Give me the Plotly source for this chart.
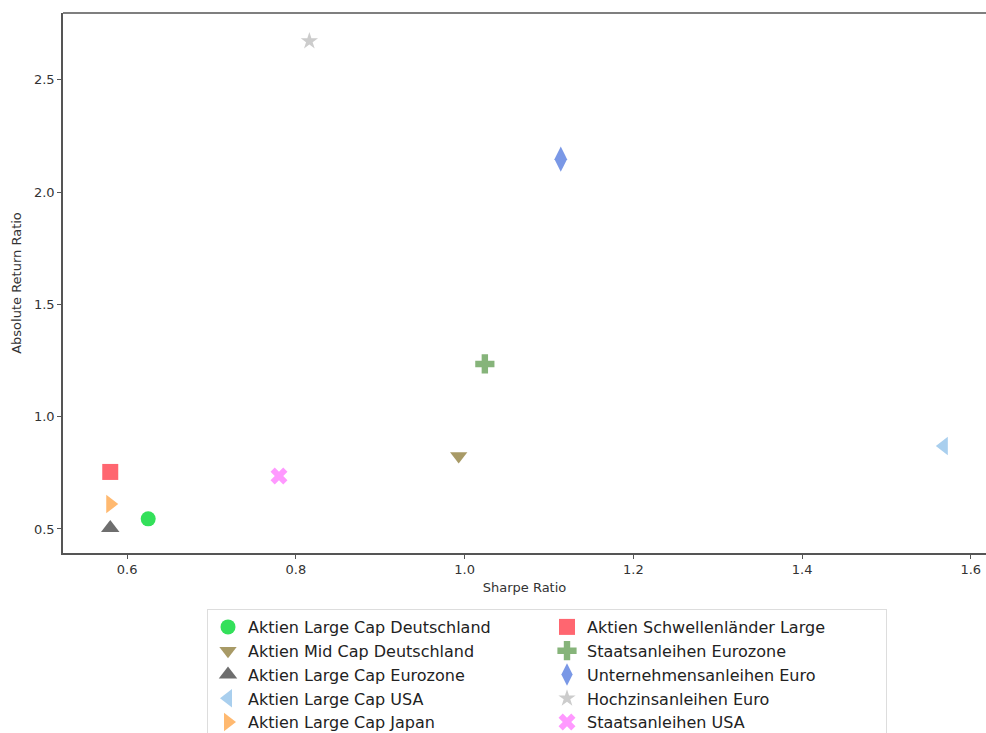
import plotly.graph_objects as go

names = [
    "Aktien Large Cap Deutschland",
    "Aktien Mid Cap Deutschland",
    "Aktien Large Cap Eurozone",
    "Aktien Large Cap USA",
    "Aktien Large Cap Japan",
    "Aktien Schwellenländer Large",
    "Staatsanleihen Eurozone",
    "Unternehmensanleihen Euro",
    "Hochzinsanleihen Euro",
    "Staatsanleihen USA",
]
sharpe = [0.625, 0.993, 0.580, 1.568, 0.580, 0.580, 1.024, 1.114, 0.816, 0.780]
abs_return = [0.545, 0.825, 0.504, 0.870, 0.611, 0.754, 1.235, 2.147, 2.673, 0.736]

symbols = ["circle", "triangle-down", "triangle-up", "triangle-left", "triangle-right",
           "square", "cross", "diamond-tall", "star", "x"]
colors = ["#33e05a", "#a89a66", "#6e6e6e", "#a9cfee", "#ffb970",
          "#ff6670", "#86b47a", "#7a98e6", "#cccccc", "#ff99ff"]
sizes = [15, 15, 16, 16, 16, 16, 16, 18, 13, 15]

W, H = 986, 733

fig = go.Figure()
# interleave so that a 2-column row-major legend reads column-major
order = []
for i in range(5):
    order += [i, i + 5]
for i in order:
    fig.add_trace(go.Scatter(
        x=[sharpe[i]], y=[abs_return[i]], mode="markers", name=names[i],
        marker=dict(symbol=symbols[i], color=colors[i], size=sizes[i], line=dict(width=0)),
    ))

axis_common = dict(showgrid=False, zeroline=False, showline=True, linecolor="#555555",
                   linewidth=1.5, ticks="outside", ticklen=4, tickcolor="#555555",
                   automargin=False, ticklabeloverflow="allow",
                   tickfont=dict(family="DejaVu Sans", size=13, color="#333333"))
fig.update_xaxes(range=[0.524, 1.618], tickvals=[0.6, 0.8, 1.0, 1.2, 1.4, 1.6],
                 ticktext=["0.6", "0.8", "1.0", "1.2", "1.4", "1.6"],
                 title=dict(text="Sharpe Ratio", font=dict(family="DejaVu Sans", size=13, color="#333333"),
                            standoff=7), **axis_common)
fig.update_yaxes(range=[0.393, 2.798], tickvals=[0.5, 1.0, 1.5, 2.0, 2.5],
                 ticktext=["0.5", "1.0", "1.5", "2.0", "2.5"],
                 title=dict(text="Absolute Return Ratio", font=dict(family="DejaVu Sans", size=13, color="#333333"),
                            standoff=9), **axis_common)

fig.add_shape(type="line", xref="paper", yref="paper", x0=0, x1=1, y0=1, y1=1,
              line=dict(color="#555555", width=1.5))

fig.update_layout(
    width=W, height=H,
    margin=dict(l=63, r=0, t=13, b=H - 553, autoexpand=False),
    plot_bgcolor="white", paper_bgcolor="white",
    showlegend=True,
    legend=dict(orientation="h", xref="container", yref="container",
                x=207 / W, y=1 - 609 / H, xanchor="left", yanchor="top",
                entrywidth=294, entrywidthmode="pixels",
                font=dict(family="DejaVu Sans", size=16, color="#222222"),
                bordercolor="#dddddd", borderwidth=1, bgcolor="white",
                tracegroupgap=0),
)

fig.write_html(
    "out.html",
    config={"displayModeBar": False},
    post_script="document.body.style.margin='0';document.body.style.overflow='hidden';",
)
